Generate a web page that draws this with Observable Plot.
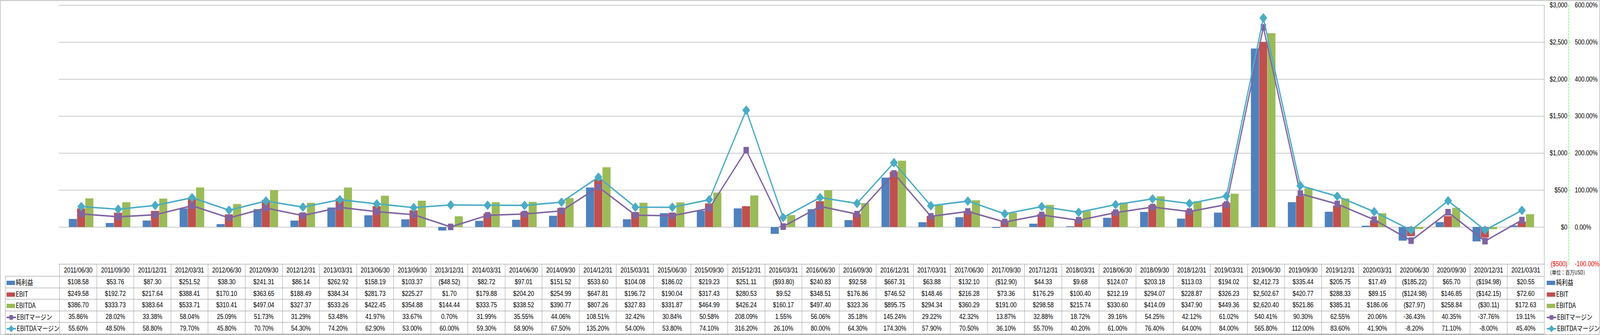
<!DOCTYPE html>
<html>
<head>
<meta charset="utf-8">
<script src="https://cdn.jsdelivr.net/npm/d3@7"></script>
<script src="https://cdn.jsdelivr.net/npm/@observablehq/plot@0.6"></script>
<style>
html, body { margin: 0; padding: 0; background: #fff; overflow: hidden; }
#stage { position: relative; overflow: hidden; width: 4981px; height: 858px; }
#wrap { position: absolute; left: 0; top: 0; width: 4981px; height: 858px; overflow: hidden; font-family: "Liberation Sans", Arial, sans-serif; background: #fff; transform-origin: 0 0; }
#chart { position: absolute; left: 0; top: 0; width: 4981px; }
#outer { position: absolute; left: 1px; top: 1px; width: 4979px; height: 856px; box-sizing: border-box; border: 1px solid #8c8c8c; pointer-events: none; }
#tbl { position: absolute; left: 16px; top: 676px; border-collapse: collapse; table-layout: fixed; font-size: 18px; color: #000; }
#tbl td { border: 1px solid #8c8c8c; text-align: center; padding: 0; white-space: nowrap; overflow: hidden; line-height: 20px; }
#tbl tr.hd { height: 31px; }
#tbl tr.dt { height: 29.6px; }
#tbl td.blank { border: none; }
#tbl td.lg { text-align: left; padding-left: 3px; font-family: "Liberation Sans Narrow", "Noto Sans CJK JP", sans-serif; font-size: 18px; }
#tbl td.rl { border: none; text-align: left; padding-left: 7px; font-family: "Liberation Sans Narrow", "Noto Sans CJK JP", sans-serif; font-size: 18px; }
#tbl td.unit { border: none; text-align: left; padding-left: 9px; font-family: "Noto Sans CJK JP", sans-serif; font-size: 14px; vertical-align: bottom; padding-bottom: 1px; }
.sw { display: inline-block; vertical-align: middle; margin-right: 2px; position: relative; top: -1px; }
</style>
</head>
<body>
<div id="stage">
<div id="wrap">
  <div id="chart"></div>
  <table id="tbl"></table>
  <div id="outer"></div>
</div>
</div>
<script>
// ---------- data ----------
const dates = ["2011/06/30","2011/09/30","2011/12/31","2012/03/31","2012/06/30","2012/09/30","2012/12/31","2013/03/31","2013/06/30","2013/09/30","2013/12/31","2014/03/31","2014/06/30","2014/09/30","2014/12/31","2015/03/31","2015/06/30","2015/09/30","2015/12/31","2016/03/31","2016/06/30","2016/09/30","2016/12/31","2017/03/31","2017/06/30","2017/09/30","2017/12/31","2018/03/31","2018/06/30","2018/09/30","2018/12/31","2019/03/31","2019/06/30","2019/09/30","2019/12/31","2020/03/31","2020/06/30","2020/09/30","2020/12/31","2021/03/31"];
const netIncome = [108.58,53.76,87.30,251.52,38.30,241.31,86.14,262.92,158.19,103.37,-48.52,82.72,97.01,151.52,533.60,104.08,186.02,219.23,251.11,-93.80,240.83,92.58,667.31,63.88,132.10,-12.90,44.33,9.68,124.07,203.18,113.03,194.02,2412.73,335.44,205.75,17.49,-185.22,65.70,-194.98,20.55];
const ebit = [249.58,192.72,217.64,388.41,170.10,363.65,188.49,384.34,281.73,225.27,1.70,179.88,204.20,254.99,647.81,196.72,190.04,317.43,280.53,9.52,348.51,176.86,746.52,148.46,216.28,73.36,176.29,100.40,212.19,294.07,228.87,326.23,2502.67,420.77,288.33,89.15,-124.98,146.85,-142.15,72.60];
const ebitda = [386.70,333.73,383.64,533.71,310.41,497.04,327.37,533.26,422.45,354.88,144.44,333.75,338.52,390.77,807.26,327.83,331.87,464.99,426.24,160.17,497.40,323.36,895.75,294.34,360.29,191.00,298.58,215.74,330.60,414.09,347.90,449.36,2620.40,521.86,385.31,186.06,-27.97,258.84,-30.11,172.63];
const ebitMargin = [35.86,28.02,33.38,58.04,25.09,51.73,31.29,53.48,41.97,33.67,0.70,31.99,35.55,44.06,108.51,32.42,30.84,50.58,208.09,1.55,56.06,35.18,145.24,29.22,42.32,13.87,32.88,18.72,39.16,54.25,42.12,61.02,540.41,90.30,62.55,20.06,-36.43,40.35,-37.76,19.11];
const ebitdaMargin = [55.60,48.50,58.80,79.70,45.80,70.70,54.30,74.20,62.90,53.00,60.00,59.30,58.90,67.50,135.20,54.00,53.80,74.10,316.20,26.10,80.00,64.30,174.30,57.90,70.50,36.10,55.70,40.20,61.00,76.40,64.00,84.00,565.80,112.00,83.60,41.90,-8.20,71.10,-8.00,45.40];
const seriesNames = ["純利益", "EBIT", "EBITDA", "EBITマージン", "EBITDAマージン"];
const seriesColors = ["#4F81BD", "#C0504D", "#9BBB59", "#8064A2", "#4BACC6"];
const yTicks = [-500, 0, 500, 1000, 1500, 2000, 2500, 3000];
const unitLabel = "（単位：百万USD）";

// ---------- layout ----------
const W = 4981, H = 677, FULL_H = 858;
const M = {top: 13, right: 174, bottom: 1, left: 183};
const band = (W - M.left - M.right) / dates.length;
const barW = band / 4.5;
const pctToUsd = 5; // 100% on the right axis lines up with $500 on the left

// the browser caps the viewport width, so fit the 4981x858 composition into it
const stage = document.getElementById("stage");
const wrap = document.getElementById("wrap");
const vw = window.innerWidth || W, vh = window.innerHeight || FULL_H;
const sx = Math.min(1, vw / W), sy = Math.min(1, vh / FULL_H);
if (sx < 1 || sy < 1) {
  wrap.style.transform = `scale(${sx}, ${sy})`;
  stage.style.width = (W * sx) + "px";
  stage.style.height = (FULL_H * sy) + "px";
}

const rows = dates.map((date, i) => ({
  date, ni: netIncome[i], ebit: ebit[i], ebitda: ebitda[i], em: ebitMargin[i], edm: ebitdaMargin[i]
}));

const thousands = d => String(Math.abs(d)).replace(/\B(?=(\d{3})+(?!\d))/g, ",");
const usdTick = d => d < 0 ? `($${thousands(d)})` : `$${thousands(d)}`;
const pctTick = d => (d / pctToUsd).toFixed(2) + "%";
const pos = yTicks.filter(d => d >= 0), neg = yTicks.filter(d => d < 0);
const inset = (band - barW) / 2;
const barKeys = ["ni", "ebit", "ebitda"];

const chart = Plot.plot({
  width: W, height: H,
  marginTop: M.top, marginRight: M.right, marginBottom: M.bottom, marginLeft: M.left,
  x: {type: "band", domain: dates, padding: 0, axis: null},
  y: {domain: [-500, 3000]},
  style: {fontFamily: "Liberation Sans, Arial, sans-serif", fontSize: "18px", background: "transparent", overflow: "visible"},
  marks: [
    Plot.gridY(yTicks, {stroke: "#8c8c8c", strokeOpacity: 1, strokeWidth: 1}),
    ...barKeys.map((k, i) => Plot.barY(rows, {
      x: "date", y1: 0, y2: k, fill: seriesColors[i],
      insetLeft: inset, insetRight: inset, dx: (i - 1) * barW
    })),
    Plot.line(rows, {x: "date", y: d => d.em * pctToUsd, stroke: seriesColors[3], strokeWidth: 3.8}),
    Plot.dot(rows, {x: "date", y: d => d.em * pctToUsd, symbol: "square", r: 8.4, fill: seriesColors[3], stroke: seriesColors[3], strokeWidth: 2, strokeLinejoin: "round"}),
    Plot.line(rows, {x: "date", y: d => d.edm * pctToUsd, stroke: seriesColors[4], strokeWidth: 3.8}),
    Plot.dot(rows, {x: "date", y: d => d.edm * pctToUsd, symbol: "diamond2", r: 9.8, fill: seriesColors[4], stroke: seriesColors[4], strokeWidth: 2, strokeLinejoin: "round"}),
    Plot.frame({anchor: "right", stroke: "#8c8c8c"}),
    Plot.frame({anchor: "right", dx: 76, stroke: "#00FF00", strokeDasharray: "5,3"}),
    Plot.axisY(yTicks, {anchor: "right", tickSize: 4, dx: 76, stroke: "#00FF00", fill: "none", label: null}),
    Plot.axisY(pos, {anchor: "right", tickSize: 0, tickPadding: 72, textAnchor: "end", tickFormat: usdTick, fill: "#000", fontSize: 18, label: null}),
    Plot.axisY(neg, {anchor: "right", tickSize: 0, tickPadding: 72, textAnchor: "end", tickFormat: usdTick, fill: "#FF0000", fontSize: 18, label: null}),
    Plot.axisY(pos, {anchor: "right", tickSize: 0, tickPadding: 95, textAnchor: "start", tickFormat: pctTick, fill: "#000", fontSize: 18, label: null}),
    Plot.axisY(neg, {anchor: "right", tickSize: 0, tickPadding: 95, textAnchor: "start", tickFormat: pctTick, fill: "#FF0000", fontSize: 18, label: null})
  ]
});
document.getElementById("chart").appendChild(chart);

// ---------- data table ----------
const money = v => Math.abs(v).toFixed(2).replace(/\B(?=(\d{3})+(?!\d))/g, ",");
const fmtUsd = v => v < 0 ? "($" + money(v) + ")" : "$" + money(v);
const fmtPct = v => v.toFixed(2) + "%";
function swatch(i) {
  const c = seriesColors[i];
  if (i < 3) return `<svg class="sw" width="27" height="11"><rect width="27" height="11" fill="${c}"/></svg>`;
  if (i === 3) return `<svg class="sw" width="30" height="16"><line x1="0" x2="30" y1="8" y2="8" stroke="${c}" stroke-width="4"/><rect x="9" y="2" width="12" height="12" rx="3" fill="${c}"/></svg>`;
  return `<svg class="sw" width="30" height="18"><line x1="0" x2="30" y1="9" y2="9" stroke="${c}" stroke-width="4"/><path d="M15,1L23,9L15,17L7,9Z" fill="${c}" stroke="${c}" stroke-width="1.5" stroke-linejoin="round"/></svg>`;
}
const tableSeries = [
  {vals: netIncome, fmt: fmtUsd},
  {vals: ebit, fmt: fmtUsd},
  {vals: ebitda, fmt: fmtUsd},
  {vals: ebitMargin, fmt: fmtPct},
  {vals: ebitdaMargin, fmt: fmtPct}
];
let html = `<colgroup><col style="width:${M.left - 16}px">` +
  dates.map(() => `<col style="width:${band}px">`).join("") +
  `<col style="width:${M.right - 4}px"></colgroup>`;
html += `<tr class="hd"><td class="blank"></td>` + dates.map(d => `<td>${d}</td>`).join("") +
  `<td class="unit">${unitLabel}</td></tr>`;
tableSeries.forEach((s, i) => {
  html += `<tr class="dt"><td class="lg">${swatch(i)}${seriesNames[i]}</td>` +
    s.vals.map(v => `<td>${s.fmt(v)}</td>`).join("") +
    `<td class="rl">${swatch(i)}${seriesNames[i]}</td></tr>`;
});
document.getElementById("tbl").innerHTML = html;
</script>
</body>
</html>
